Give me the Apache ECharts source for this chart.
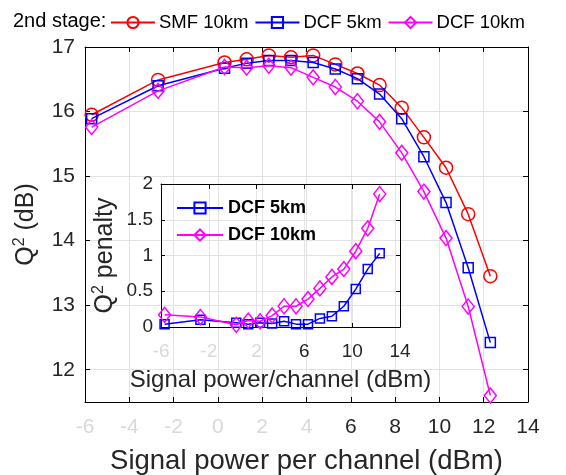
<!DOCTYPE html>
<html>
<head>
<meta charset="utf-8">
<script src="https://cdn.jsdelivr.net/npm/echarts@6/dist/echarts.min.js"></script>
<style>
  html, body { margin: 0; padding: 0; background: #fff; }
  #main { width: 566px; height: 475px; }
</style>
</head>
<body>
<div id="main"></div>
<script>
// 发射功率 (dBm)
var power = [-5.7, -2.7, 0.3, 1.3, 2.3, 3.3, 4.3, 5.3, 6.3, 7.3, 8.3, 9.3, 10.3, 11.3, 12.3];
// Q2 (dB)
var smf10 = [15.95, 16.49, 16.76, 16.81, 16.87, 16.84, 16.87, 16.73, 16.59, 16.41, 16.06, 15.60, 15.13, 14.41, 13.45];
var dcf5 = [15.89, 16.40, 16.67, 16.75, 16.79, 16.79, 16.76, 16.66, 16.51, 16.27, 15.89, 15.30, 14.59, 13.58, 12.42];
var dcf10 = [15.76, 16.32, 16.69, 16.68, 16.71, 16.68, 16.53, 16.38, 16.16, 15.84, 15.36, 14.76, 14.04, 12.98, 11.60];
// 小图: Q2 penalty
var pen5 = [0.04, 0.10, 0.06, 0.04, 0.06, 0.05, 0.08, 0.04, 0.04, 0.12, 0.15, 0.29, 0.53, 0.81, 1.03];
var pen10 = [0.17, 0.14, 0.03, 0.09, 0.08, 0.16, 0.29, 0.29, 0.39, 0.54, 0.70, 0.81, 1.06, 1.38, 1.86];
// 刻度
var mainYTicks = [12, 13, 14, 15, 16, 17];

var FONT = 'Liberation Sans';
var DARK = '#262626';
var FADED = '#d9d9d9';
var GRID = '#e3e3e3';

function pairs(xs, ys) {
  var out = [];
  for (var i = 0; i < xs.length; i++) out.push([xs[i], ys[i]]);
  return out;
}

// 空心标记的线
function lineSeries(name, color, symbol, size, data, xi, yi, z) {
  return {
    name: name,
    type: 'line',
    xAxisIndex: xi,
    yAxisIndex: yi,
    data: data,
    symbol: symbol,
    symbolSize: size,
    z: z,
    lineStyle: { color: color, width: 1.5 },
    itemStyle: { color: 'rgba(255,255,255,0)', borderColor: color, borderWidth: 1.5 },
    emphasis: { disabled: true },
    animation: false
  };
}

function boxAxisX(gi, min, max, interval) {
  return {
    type: 'value', gridIndex: gi, position: 'top', min: min, max: max, interval: interval,
    axisLine: { show: true, onZero: false, lineStyle: { color: '#000', width: 1 } },
    axisTick: { show: true, inside: true, length: 5, lineStyle: { color: '#000' } },
    axisLabel: { show: false }, splitLine: { show: false }
  };
}

var chart = echarts.init(document.getElementById('main'), null, { renderer: 'canvas' });

var option = {
  backgroundColor: '#fff',
  textStyle: { fontFamily: FONT },
  graphic: [{
    type: 'text', left: 13, top: 11,
    style: { text: '2nd stage:', fontFamily: FONT, fontSize: 20, fill: '#000' }
  }],
  legend: [{
    data: ['SMF 10km', 'DCF 5km', 'DCF 10km'],
    left: 110, top: 13, padding: 0,
    itemWidth: 44, itemHeight: 14, itemGap: 6,
    textStyle: { fontFamily: FONT, fontSize: 18.5, color: '#000', padding: [0, 0, 0, -1] },
    selectedMode: false
  }, {
    data: ['inset5', 'inset10'],
    orient: 'vertical',
    left: 176, top: 199, padding: 0,
    itemWidth: 46, itemHeight: 14, itemGap: 9,
    formatter: function (n) { return n === 'inset5' ? 'DCF 5km' : 'DCF 10km'; },
    textStyle: { fontFamily: FONT, fontSize: 18, fontWeight: 'bold', color: '#000' },
    selectedMode: false
  }],
  grid: [
    { left: 85, right: 38, top: 47, bottom: 73, show: false, outerBoundsMode: 'none', containLabel: false },
    { left: 161, width: 239, top: 184, height: 143, show: false, outerBoundsMode: 'none', containLabel: false }
  ],
  xAxis: [{
    type: 'value', gridIndex: 0, min: -6, max: 14, interval: 2,
    axisLine: { show: true, onZero: false, lineStyle: { color: '#000', width: 1 } },
    axisTick: { show: true, inside: true, length: 5, lineStyle: { color: '#000' } },
    axisLabel: {
      fontFamily: FONT, fontSize: 21, margin: 15,
      formatter: function (v) { return v <= 4 ? '{f|' + v + '}' : '{d|' + v + '}'; },
      rich: { f: { color: FADED, fontSize: 21, fontFamily: FONT }, d: { color: DARK, fontSize: 21, fontFamily: FONT } }
    },
    splitLine: { show: true, lineStyle: { color: GRID, width: 1 } },
    name: 'Signal power per channel (dBm)', nameLocation: 'middle', nameGap: 45,
    nameTextStyle: { fontFamily: FONT, fontSize: 27.5, color: DARK }
  }, boxAxisX(0, -6, 14, 2), {
    type: 'value', gridIndex: 1, min: -6, max: 14, interval: 4,
    axisLine: { show: true, onZero: false, lineStyle: { color: '#000', width: 1 } },
    axisTick: { show: true, inside: true, length: 4, lineStyle: { color: '#000' } },
    axisLabel: {
      fontFamily: FONT, fontSize: 19, margin: 15,
      formatter: function (v) { return v <= 2 ? '{f|' + v + '}' : '{d|' + v + '}'; },
      rich: { f: { color: FADED, fontSize: 19, fontFamily: FONT }, d: { color: DARK, fontSize: 19, fontFamily: FONT } }
    },
    splitLine: { show: true, lineStyle: { color: GRID, width: 1 } },
    name: 'Signal power/channel (dBm)', nameLocation: 'middle', nameGap: 41,
    nameTextStyle: { fontFamily: FONT, fontSize: 24, color: DARK }
  }, boxAxisX(1, -6, 14, 4)],
  yAxis: [{
    type: 'value', gridIndex: 0, min: 11.5, max: 17,
    axisLine: { show: true, onZero: false, lineStyle: { color: '#000', width: 1 } },
    axisTick: { show: true, inside: true, length: 5, customValues: mainYTicks, lineStyle: { color: '#000' } },
    axisLabel: { fontFamily: FONT, fontSize: 21, color: DARK, margin: 10, customValues: mainYTicks },
    splitLine: { show: true, lineStyle: { color: GRID, width: 1 } },
    name: '{a|Q}{s|2}{a| (dB)}', nameLocation: 'middle', nameGap: 45, nameRotate: 90,
    nameTextStyle: {
      rich: {
        a: { fontFamily: FONT, fontSize: 25, color: DARK },
        s: { fontFamily: FONT, fontSize: 16, color: DARK, padding: [0, 0, 12, 0] }
      }
    }
  }, {
    type: 'value', gridIndex: 0, position: 'right', min: 11.5, max: 17,
    axisLine: { show: true, onZero: false, lineStyle: { color: '#000', width: 1 } },
    axisTick: { show: true, inside: true, length: 5, customValues: mainYTicks, lineStyle: { color: '#000' } },
    axisLabel: { show: false }, splitLine: { show: false }
  }, {
    type: 'value', gridIndex: 1, min: 0, max: 2, interval: 0.5,
    axisLine: { show: true, onZero: false, lineStyle: { color: '#000', width: 1 } },
    axisTick: { show: true, inside: true, length: 4, lineStyle: { color: '#000' } },
    axisLabel: { fontFamily: FONT, fontSize: 19, color: DARK, margin: 8 },
    splitLine: { show: true, lineStyle: { color: GRID, width: 1 } },
    name: '{a|Q}{s|2}{a| penalty}', nameLocation: 'middle', nameGap: 42, nameRotate: 90,
    nameTextStyle: {
      rich: {
        a: { fontFamily: FONT, fontSize: 25, color: DARK },
        s: { fontFamily: FONT, fontSize: 16, color: DARK, padding: [0, 0, 12, 0] }
      }
    }
  }, {
    type: 'value', gridIndex: 1, position: 'right', min: 0, max: 2, interval: 0.5,
    axisLine: { show: true, onZero: false, lineStyle: { color: '#000', width: 1 } },
    axisTick: { show: true, inside: true, length: 4, lineStyle: { color: '#000' } },
    axisLabel: { show: false }, splitLine: { show: false }
  }],
  series: [
    lineSeries('SMF 10km', '#ff0000', 'circle', 13, pairs(power, smf10), 0, 0, 3),
    lineSeries('DCF 5km', '#0000ff', 'rect', 10, pairs(power, dcf5), 0, 0, 4),
    lineSeries('DCF 10km', '#ff00ff', 'diamond', [12, 15], pairs(power, dcf10), 0, 0, 5),
    lineSeries('inset5', '#0000ff', 'rect', 9, pairs(power, pen5), 2, 2, 6),
    lineSeries('inset10', '#ff00ff', 'diamond', [12, 15], pairs(power, pen10), 2, 2, 7)
  ]
};

chart.setOption(option);
</script>
</body>
</html>
